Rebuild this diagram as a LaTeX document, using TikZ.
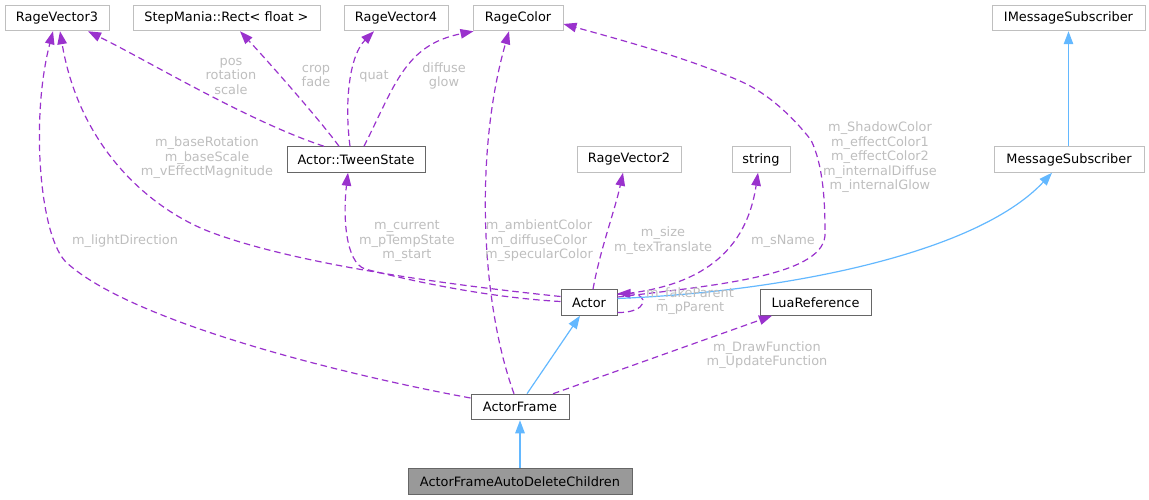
\documentclass[tikz,border=0pt]{standalone}
\usepackage{fontspec}
\setmainfont{DejaVu Sans}
\usetikzlibrary{arrows.meta}
\definecolor{edgepurple}{HTML}{9A32CD}
\definecolor{edgeblue}{HTML}{63B8FF}
\definecolor{lightborder}{HTML}{BFBFBF}
\definecolor{darkborder}{HTML}{666666}
\definecolor{labelgray}{HTML}{BEBEBE}
\definecolor{focusfill}{HTML}{999999}
\tikzset{
  cls/.style={draw=lightborder, line width=1pt, fill=white, inner sep=0pt,
    minimum height=25.5pt, font=\fontsize{12.9}{14.5}\selectfont, text=black},
  clsdark/.style={cls, draw=darkborder},
  focus/.style={cls, draw=darkborder, fill=focusfill},
  dep/.style={draw=edgepurple, line width=1.2pt, dash pattern=on 6.5pt off 4pt,
    -{Triangle[length=13pt,width=9.5pt]}},
  inh/.style={draw=edgeblue, line width=1.2pt, -{Triangle[length=13pt,width=9.5pt]}},
  elabel/.style={text=labelgray, font=\fontsize{12.9}{14.5}\selectfont, align=center, inner sep=0pt}
}
\begin{document}
\begin{tikzpicture}[x=1pt,y=-1pt]
\useasboundingbox (0,0) rectangle (1149,500);
% classes
\node[cls, minimum width=104pt] (rv3) at (57,18) {RageVector3};
\node[cls, minimum width=187pt] (rect) at (226.5,18) {StepMania::Rect< float >};
\node[cls, minimum width=104pt] (rv4) at (396,18) {RageVector4};
\node[cls, minimum width=90pt] (rc) at (518,18) {RageColor};
\node[cls, minimum width=153pt] (ims) at (1068.5,18) {IMessageSubscriber};
\node[clsdark, minimum width=138pt] (ts) at (356,159.5) {Actor::TweenState};
\node[cls, minimum width=104pt] (rv2) at (629,159.5) {RageVector2};
\node[cls, minimum width=58pt] (str) at (761,159.5) {string};
\node[cls, minimum width=150pt] (ms) at (1069,159.5) {MessageSubscriber};
\node[clsdark, minimum width=56pt] (actor) at (589,302.5) {Actor};
\node[clsdark, minimum width=111pt] (lua) at (815.5,302.5) {LuaReference};
\node[clsdark, minimum width=98pt] (af) at (520,407) {ActorFrame};
\node[focus, minimum width=224pt] (adc) at (520,481.5) {ActorFrameAutoDeleteChildren};
% usage edges
\draw[dep] ([xshift=-32]ts.north) .. controls (250,122) and (150,62) .. ([xshift=31]rv3.south);
\draw[dep] ([xshift=-17]ts.north) .. controls (320,120) and (265,58) .. ([xshift=13.5]rect.south);
\draw[dep] ([xshift=-6]ts.north) .. controls (344,100) and (350,55) .. ([xshift=-22]rv4.south);
\draw[dep] ([xshift=8]ts.north) .. controls (395,85) and (405,45) .. ([xshift=1]rc.south west);
\draw[dep] ([yshift=6]actor.west) .. controls (450,285) and (300,265) .. (213,233)
  .. controls (153,211) and (80,150) .. ([xshift=3]rv3.south);
\draw[dep] ([yshift=9]af.west) .. controls (330,372) and (130,320) .. (67,263)
  .. controls (40,239) and (30,120) .. ([xshift=-4]rv3.south);
\draw[dep] ([xshift=-6]af.north) .. controls (480,300) and (475,150) .. ([xshift=-9]rc.south);
\draw[dep] ([yshift=5.5]actor.east) .. controls (720,285) and (828,275) .. (825,232)
  .. controls (825,200) and (823,165) .. (811,140)
  .. controls (792,116) and (767.6,93) .. (740,81)
  .. controls (685,57) and (621,40) .. ([yshift=-6]rc.east);
\draw[dep] ([xshift=4]actor.north) .. controls (600,250) and (615,210) .. ([xshift=-6]rv2.south);
\draw[dep] ([yshift=8]actor.east) .. controls (690,288) and (745,260) .. ([xshift=-3]str.south);
\draw[dep] ([yshift=-10]actor.east) .. controls (648,313) and (650,294) .. ([yshift=9]actor.east);
\draw[dep] ([xshift=33]af.north) -- ([xshift=-43.5]lua.south);
\draw[dep] ([yshift=1]actor.west) .. controls (480,297) and (400,278) .. (365,269)
  .. controls (345,262) and (343,215) .. ([xshift=-8]ts.south);
% inheritance edges
\draw[inh] ([yshift=4]actor.east) .. controls (780,292) and (975,255) .. ([xshift=-17]ms.south);
\draw[inh] (ims.south |- ms.north) -- (ims.south);
\draw[inh] ([xshift=7]af.north) -- ([xshift=-9]actor.south);
\draw[inh] (adc.north) -- (af.south);
% labels
\node[elabel] (l1) at (231,76) {pos\\rotation\\scale};
\node[elabel] (l2) at (316,76) {crop\\fade};
\node[elabel] (l3) at (374,76) {quat};
\node[elabel] (l4) at (444,76) {diffuse\\glow};
\node[elabel] (l5) at (207,158) {m\_baseRotation\\m\_baseScale\\m\_vEffectMagnitude};
\node[elabel] (l6) at (125,241) {m\_lightDirection};
\node[elabel] (l7) at (407,241) {m\_current\\m\_pTempState\\m\_start};
\node[elabel] (l8) at (539,241) {m\_ambientColor\\m\_diffuseColor\\m\_specularColor};
\node[elabel] (l9) at (663,240.5) {m\_size\\m\_texTranslate};
\node[elabel] (l10) at (783,241) {m\_sName};
\node[elabel] (l11) at (880,157.5) {m\_ShadowColor\\m\_effectColor1\\m\_effectColor2\\m\_internalDiffuse\\m\_internalGlow};
\node[elabel] (l12) at (690,301) {m\_fakeParent\\m\_pParent};
\node[elabel] (l13) at (767,355) {m\_DrawFunction\\m\_UpdateFunction};
\end{tikzpicture}
\end{document}
